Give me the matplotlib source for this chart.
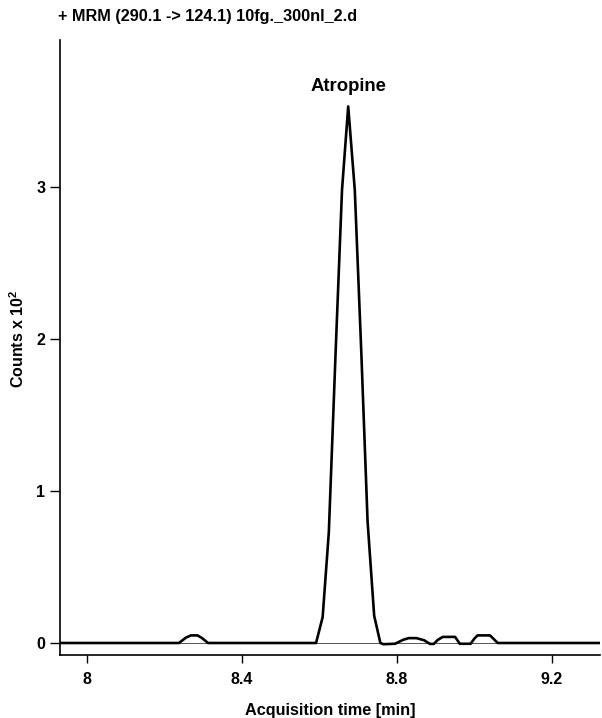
import numpy as np
import matplotlib
matplotlib.use("Agg")
import matplotlib.pyplot as plt

plt.rcParams['font.family'] = ['Liberation Sans', 'DejaVu Sans']
plt.rcParams['font.weight'] = 'bold'

# chromatogram trace (time in min, counts x 10^2)
acq_time = [7.93, 8.237, 8.255, 8.268, 8.285, 8.298, 8.312,
            8.591, 8.608, 8.624, 8.641, 8.658, 8.674, 8.691, 8.708, 8.724, 8.741, 8.757,
            8.765, 8.795, 8.815, 8.83, 8.85, 8.87, 8.885, 8.895, 8.905, 8.918, 8.95,
            8.962, 8.99, 9.0, 9.008, 9.04, 9.06, 9.324]
counts = [0.0, 0.0, 0.035, 0.05, 0.05, 0.03, 0.0,
          0.0, 0.17, 0.73, 1.88, 2.98, 3.53, 2.98, 1.9, 0.8, 0.18, 0.0,
          -0.008, -0.005, 0.02, 0.032, 0.032, 0.018, -0.006, -0.006, 0.02, 0.04, 0.04,
          -0.005, -0.005, 0.03, 0.05, 0.05, 0.0, 0.0]

x_ticks = [8, 8.4, 8.8, 9.2]
x_ticklabels = ['8', '8.4', '8.8', '9.2']
y_ticks = [0, 1, 2, 3]

title = '+ MRM (290.1 -> 124.1) 10fg._300nl_2.d'
peak_name = 'Atropine'

fig = plt.figure(figsize=(6.02, 7.18), dpi=100)
ax = fig.add_axes([60 / 602, 1 - 655 / 718, 540 / 602, 615 / 718])

ax.axhline(0, color='#555555', lw=0.7, zorder=1)
ax.plot(acq_time, counts, color='black', lw=1.9, solid_joinstyle='round', zorder=2)

imax = int(np.argmax(counts))
ax.annotate(peak_name, (acq_time[imax], counts[imax]), xytext=(0, 8),
            textcoords='offset points', ha='center', va='bottom',
            fontsize=13.3, fontweight='bold')

ax.set_xlim(7.93, 9.324)
ax.set_ylim(-0.079, 3.967)
ax.set_xticks(x_ticks)
ax.set_xticklabels(x_ticklabels)
ax.set_yticks(y_ticks)

for side in ['top', 'right']:
    ax.spines[side].set_visible(False)
for side in ['left', 'bottom']:
    ax.spines[side].set_linewidth(1.2)

ax.tick_params(axis='y', direction='out', length=7.5, width=1.0, labelsize=11.5, pad=3)
ax.tick_params(axis='x', direction='out', length=5.5, width=1.0, labelsize=11.5, pad=7)
for lab in ax.get_xticklabels() + ax.get_yticklabels():
    lab.set_fontweight('bold')

ax.set_xlabel('Acquisition time [min]', fontsize=11.7, fontweight='bold', labelpad=11)
ax.set_ylabel('Counts x 10$^\\mathregular{2}$', fontsize=11.5, fontweight='bold')
ax.yaxis.set_label_coords(-0.061, 0.515)

fig.text(58 / 602, 1 - 16 / 718, title, ha='left', va='center',
         fontsize=11.7, fontweight='bold')

fig.savefig('out.png', dpi=100)
